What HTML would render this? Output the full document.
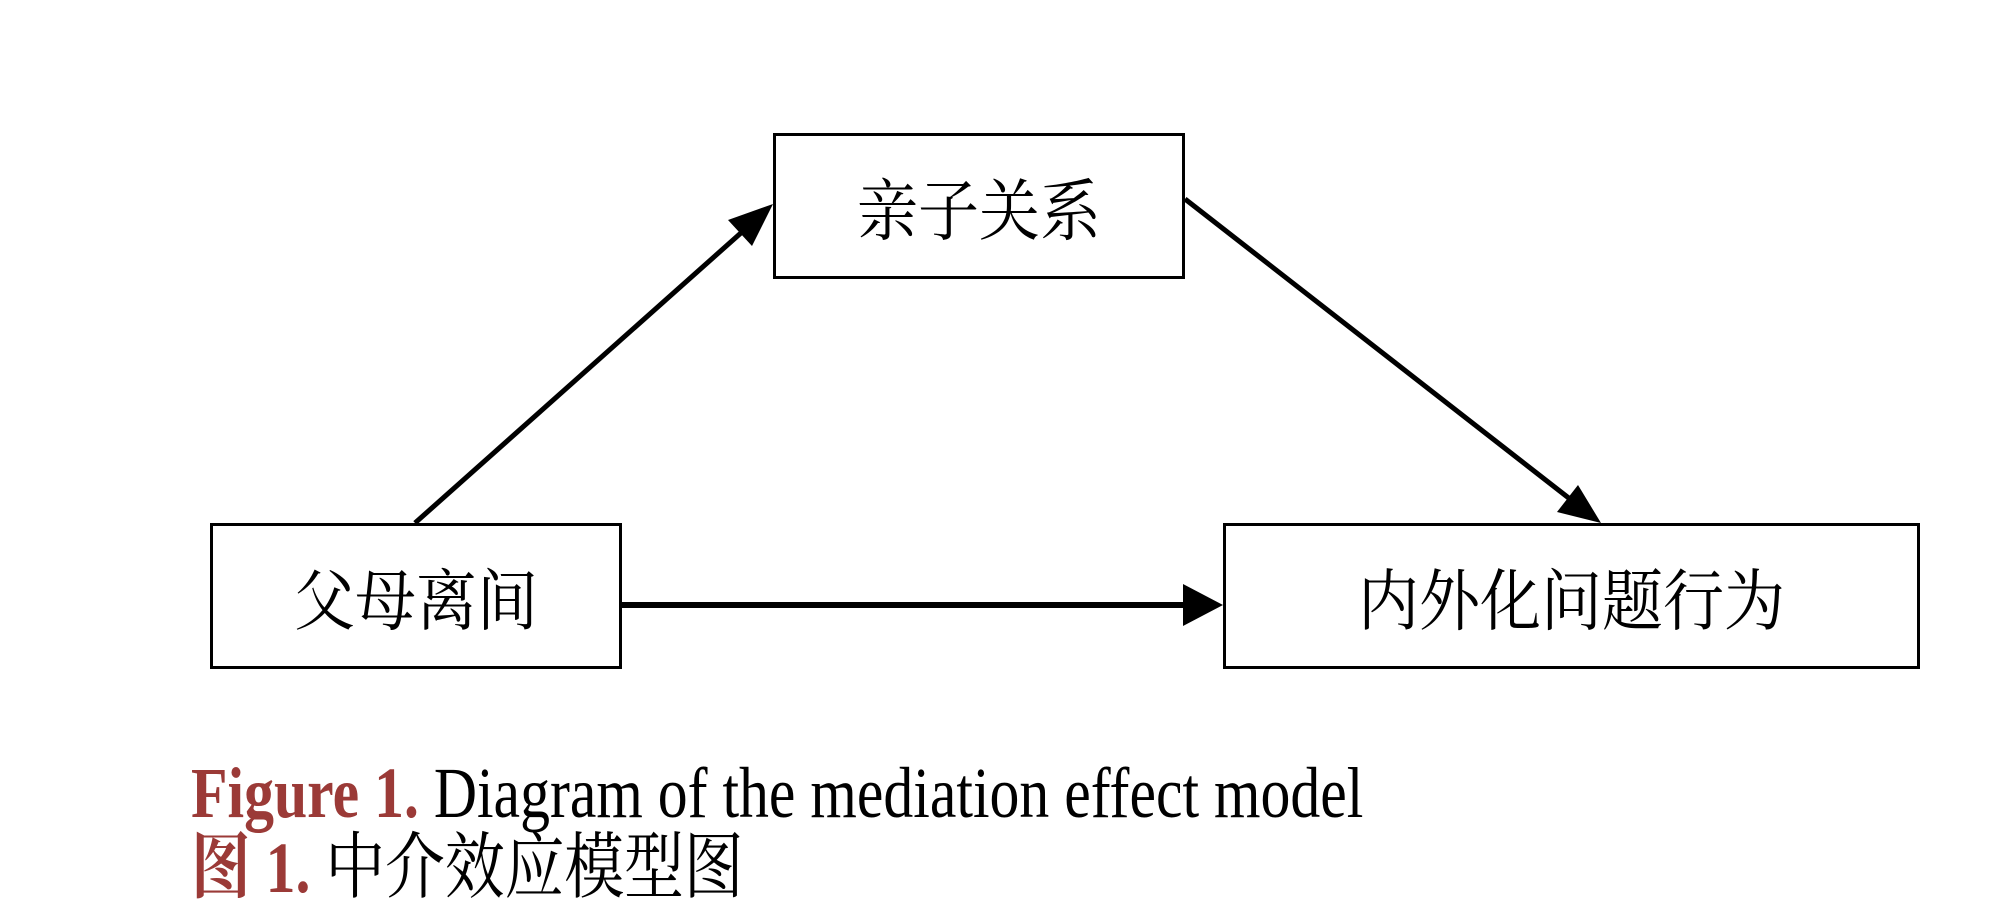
<!DOCTYPE html>
<html><head><meta charset="utf-8"><style>
html,body{margin:0;padding:0;background:#fff;}
body{width:2000px;height:856px;position:relative;overflow:hidden;font-family:"Liberation Serif","Noto Serif CJK SC",serif;}
.box{position:absolute;border:3px solid #000;box-sizing:border-box;display:flex;align-items:center;justify-content:center;font-size:61px;font-family:"Liberation Serif","Noto Serif CJK SC",serif;color:#000;}
.box span{display:inline-block;transform:scaleY(1.1);}
.cap{position:absolute;left:191px;font-size:58px;white-space:nowrap;line-height:1;transform-origin:0 0;transform:scale(1.03,1.25);}
.red{color:#9b3a37;font-weight:bold;}
</style></head><body>
<svg width="2000" height="856" style="position:absolute;left:0;top:0">
<line x1="415" y1="523" x2="742" y2="232" stroke="#000" stroke-width="5"/>
<polygon points="773,204 728,220 752,246" fill="#000"/>
<line x1="1185" y1="199" x2="1570" y2="499" stroke="#000" stroke-width="5"/>
<polygon points="1601,523 1557,512 1578,485" fill="#000"/>
<line x1="621" y1="605" x2="1185" y2="605" stroke="#000" stroke-width="6"/>
<polygon points="1223,605 1183,584 1183,626" fill="#000"/>
</svg>
<div class="box" style="left:773px;top:133px;width:412px;height:146px;"><span>亲子关系</span></div>
<div class="box" style="left:210px;top:523px;width:412px;height:146px;"><span>父母离间</span></div>
<div class="box" style="left:1223px;top:523px;width:697px;height:146px;"><span>内外化问题行为</span></div>
<div class="cap" style="top:757px;"><span class="red">Figure 1.</span> Diagram of the mediation effect model</div>
<div class="cap" style="top:832px;"><span class="red">图 1.</span> 中介效应模型图</div>
</body></html>
